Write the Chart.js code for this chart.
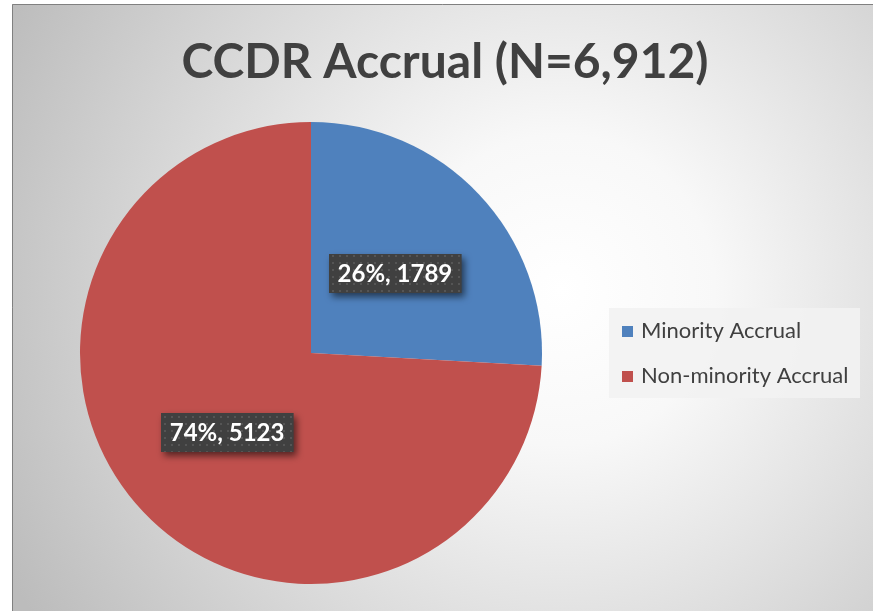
<!DOCTYPE html>
<html>
<head>
<meta charset="utf-8">
<script src="https://cdn.jsdelivr.net/npm/chart.js@4.4.1/dist/chart.umd.min.js"></script>
<style>
  html, body { margin: 0; padding: 0; background: #fff; }
  canvas { display: block; }
</style>
</head>
<body>
<canvas id="pieChart" width="873" height="611"></canvas>
<script>
const titleText = "CCDR Accrual (N=6,912)";
const categories = ["Minority Accrual", "Non-minority Accrual"];
const accrual = [1789, 5123];
const sliceColors = ["#4F81BD", "#C0504D"];

const textColor = "#404040";
const fontFamily = "Lato, 'Open Sans', sans-serif";

// dotted dark fill used by the data label boxes
const makeDots = () => {
  const c = document.createElement("canvas");
  c.width = 7;
  c.height = 7;
  const g = c.getContext("2d");
  g.fillStyle = "#404040";
  g.fillRect(0, 0, 7, 7);
  g.fillStyle = "#555555";
  g.fillRect(3, 3, 2, 2);
  return c;
};

const framePlugin = {
  id: "frame",
  beforeDraw: (chart) => {
    const ctx = chart.ctx;
    ctx.save();
    ctx.fillStyle = "#ffffff";
    ctx.fillRect(0, 0, chart.width, chart.height);
    const grad = ctx.createRadialGradient(560, 290, 0, 560, 290, 620);
    grad.addColorStop(0, "#ffffff");
    grad.addColorStop(0.25, "#f8f8f8");
    grad.addColorStop(1, "#bcbcbc");
    ctx.fillStyle = grad;
    ctx.fillRect(12, 4, chart.width - 12, chart.height - 4);
    ctx.strokeStyle = "#808080";
    ctx.lineWidth = 1;
    ctx.beginPath();
    ctx.moveTo(12.5, chart.height);
    ctx.lineTo(12.5, 4.5);
    ctx.lineTo(chart.width, 4.5);
    ctx.stroke();

    // title
    ctx.fillStyle = textColor;
    ctx.font = "bold 48px " + fontFamily;
    ctx.textAlign = "center";
    ctx.textBaseline = "alphabetic";
    ctx.fillText(titleText, 445, 78);
    ctx.restore();
  },
};

const labelPlugin = {
  id: "sliceLabels",
  afterDatasetsDraw: (chart) => {
    const ctx = chart.ctx;
    const data = chart.data.datasets[0].data;
    const total = data.reduce((a, b) => a + b, 0);
    const pattern = ctx.createPattern(makeDots(), "repeat");
    chart.getDatasetMeta(0).data.forEach((arc, i) => {
      const pos = arc.tooltipPosition();
      const text = Math.round((data[i] / total) * 100) + "%, " + data[i];
      ctx.save();
      ctx.font = "bold 24px " + fontFamily;
      const w = ctx.measureText(text).width + 18;
      const h = 39;
      const x = Math.round(pos.x - w / 2);
      const y = Math.round(pos.y - h / 2);
      ctx.shadowColor = "rgba(0,0,0,0.55)";
      ctx.shadowBlur = 7;
      ctx.shadowOffsetX = 3;
      ctx.shadowOffsetY = 4;
      ctx.fillStyle = pattern;
      ctx.fillRect(x, y, w, h);
      ctx.shadowColor = "transparent";
      ctx.fillStyle = "#ffffff";
      ctx.textAlign = "center";
      ctx.textBaseline = "middle";
      ctx.fillText(text, pos.x, pos.y + 1);
      ctx.restore();
    });
  },
};

const legendPlugin = {
  id: "sideLegend",
  afterDraw: (chart) => {
    const ctx = chart.ctx;
    ctx.save();
    ctx.fillStyle = "rgba(242,242,242,0.9)";
    ctx.fillRect(609, 308, 251, 90);
    ctx.font = "22px " + fontFamily;
    ctx.textBaseline = "middle";
    ctx.textAlign = "left";
    chart.data.labels.forEach((lab, i) => {
      const cy = 331 + i * 45;
      ctx.fillStyle = chart.data.datasets[0].backgroundColor[i];
      ctx.fillRect(622, cy - 5, 11, 11);
      ctx.fillStyle = textColor;
      ctx.fillText(lab, 641, cy);
    });
    ctx.restore();
  },
};

const ctx = document.getElementById("pieChart").getContext("2d");
const pieChart = new Chart(ctx, {
  type: "pie",
  data: {
    labels: categories,
    datasets: [
      {
        data: accrual,
        backgroundColor: sliceColors,
        borderWidth: 0,
      },
    ],
  },
  options: {
    responsive: false,
    animation: false,
    devicePixelRatio: 1,
    layout: {
      padding: { left: 80, right: 331, top: 122, bottom: 27 },
    },
    plugins: {
      legend: { display: false },
      tooltip: { enabled: false },
      title: { display: false },
    },
  },
  plugins: [framePlugin, labelPlugin, legendPlugin],
});
</script>
</body>
</html>
